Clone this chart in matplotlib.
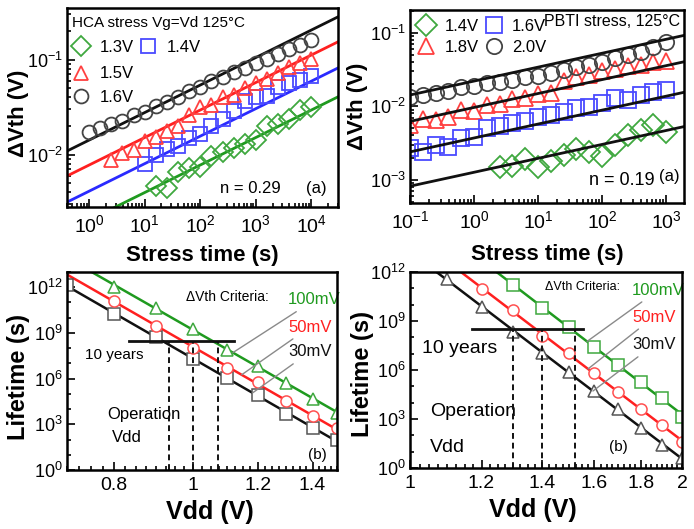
import numpy as np
import matplotlib
matplotlib.use("Agg")
import matplotlib.pyplot as plt
from matplotlib.ticker import FixedLocator, FuncFormatter, NullFormatter, LogLocator

SANS = ["Liberation Sans", "DejaVu Sans"]
plt.rcParams["font.family"] = SANS
plt.rcParams["mathtext.fontset"] = "custom"
plt.rcParams["mathtext.rm"] = "Liberation Sans"
plt.rcParams["mathtext.it"] = "Liberation Sans:italic"
plt.rcParams["mathtext.bf"] = "Liberation Sans:bold"
plt.rcParams["mathtext.default"] = "regular"

# ---------------- (a) HCA stress, Vg = Vd, 125 C ----------------
hca_time = [1, 1.58, 2.51, 3.98, 6.31, 10, 15.8, 25.1, 39.8, 63.1, 100,
            158, 251, 398, 631, 1000, 1585, 2512, 3981, 6310, 10000]
hca_16V = [0.0171, 0.0190, 0.0208, 0.0227, 0.0260, 0.0283, 0.0324, 0.0362,
           0.0405, 0.0462, 0.0516, 0.059, 0.066, 0.0736, 0.0823, 0.0918,
           0.1026, 0.1147, 0.128, 0.143, 0.160]
hca_15V = [0.0088, 0.0103, 0.0112, 0.0140, 0.0152, 0.0179, 0.0202, 0.0258,
           0.0315, 0.033, 0.040, 0.042, 0.050, 0.057, 0.063, 0.072, 0.083,
           0.092, 0.102]
hca_14V = [0.0079, 0.0100, 0.0115, 0.0124, 0.0150, 0.0165, 0.0202, 0.0238,
           0.029, 0.037, 0.0401, 0.0418, 0.052, 0.0564, 0.0611, 0.0679]
hca_13V = [0.0047, 0.0044, 0.0066, 0.0072, 0.0074, 0.0096, 0.0106, 0.0118,
           0.013, 0.0142, 0.0198, 0.021, 0.0238, 0.0295, 0.032]
hca_n = 0.29
hca_fit_A = {"1.3V": 0.00204, "1.4V": 0.00411, "1.5V": 0.00775, "1.6V": 0.0142}

# ---------------- (a) PBTI stress, 125 C ----------------
pbti_time = [0.1, 0.158, 0.251, 0.398, 0.631, 1, 1.58, 2.51, 3.98, 6.31, 10,
             15.8, 25.1, 39.8, 63.1, 100, 158, 251, 398, 631, 1000]
pbti_20V = [0.0133, 0.0143, 0.0153, 0.0164, 0.0182, 0.0189, 0.0206, 0.0217,
            0.0228, 0.0248, 0.0259, 0.0282, 0.0313, 0.0347, 0.0366, 0.0407,
            0.0451, 0.0501, 0.0556, 0.0651, 0.0762]
pbti_18V = [0.0055, 0.0068, 0.0066, 0.0072, 0.0088, 0.0085, 0.0105, 0.0108,
            0.0125, 0.0130, 0.0148, 0.0152, 0.022, 0.025, 0.027, 0.030, 0.032,
            0.035, 0.037, 0.040, 0.042]
pbti_16V = [0.00267, 0.00241, 0.00297, 0.00282, 0.00366, 0.00386, 0.00501,
            0.0054, 0.00586, 0.00638, 0.00723, 0.00762, 0.00846, 0.0094,
            0.00989, 0.011, 0.0129, 0.0122, 0.0143, 0.0158, 0.0167]
pbti_14V = [0.0015, 0.00155, 0.0019, 0.0015, 0.0018, 0.0022, 0.0026, 0.0024,
            0.0021, 0.003, 0.0041, 0.0048, 0.0056, 0.0044]
pbti_n = 0.19
pbti_fit_A = {"1.4V": 0.00126, "1.6V": 0.0037, "1.8V": 0.00965, "2.0V": 0.0221}

# ---------------- (b) lifetime vs Vdd ----------------
ten_years = 3.15e8
hca_vdd = [0.7, 0.8, 0.9, 1.0, 1.1, 1.2, 1.3, 1.4, 1.5]
hca_life_30mV = [1.4e12, 1.7e10, 5.1e8, 1.8e7, 1.15e6, 8.3e4, 5.1e3, 5.6e2, 91]
hca_life_50mV = [1.3e11, 3.0e9, 1.1e8, 4.7e6, 5.6e5, 3.2e4, 3.4e3, 5.6e2]
hca_life_100mV = [1.1e12, 4.3e10, 1.9e9, 8.1e7, 6.6e6, 5.4e5, 4.4e4, 5.9e3]
hca_oper_vdd = [0.933, 1.0, 1.072]
hca_ten_year_span = [0.835, 1.12]

pbti_vdd = [1.1, 1.2, 1.3, 1.4, 1.5, 1.6, 1.7, 1.8, 1.9, 2.0]
pbti_life_30mV = [3.7e11, 7.6e9, 2.2e8, 1.05e7, 7.2e5, 5.2e4, 4.1e3, 3.0e2, 26, 4.0]
pbti_life_50mV = [9.1e10, 4.8e9, 1.26e8, 1.05e7, 6.3e5, 4.7e4, 4.1e3, 4.3e2, 41]
pbti_life_100mV = [1.5e11, 6.6e9, 4.5e8, 2.7e7, 2.0e6, 1.95e5, 1.86e4, 1.4e3]
pbti_oper_vdd = [1.301, 1.399, 1.523]
pbti_ten_year_span = [1.17, 1.556]

GREEN, BLUE, RED, BLACK = "#1f9a1f", "#2a2aff", "#ff2020", "#111111"
MK_GREEN, MK_BLUE, MK_RED, MK_BLACK = "#3fa83f", "#4a4aff", "#ff4040", "#444444"

fig = plt.figure(figsize=(6.94, 5.29), dpi=100)
W, H = 694.0, 529.0


def add_axes(l, r, t, b):
    return fig.add_axes([l / W, 1 - b / H, (r - l) / W, (b - t) / H])


def style(ax, ysize=13):
    for s in ax.spines.values():
        s.set_linewidth(1.8)
        s.set_zorder(5)
    ax.tick_params(which="both", direction="in", top=False, right=False,
                   width=1.2)
    ax.tick_params(axis="x", labelsize=14, pad=5)
    ax.tick_params(axis="y", labelsize=ysize, pad=3)
    ax.tick_params(which="major", length=6)
    ax.tick_params(which="minor", length=3)


def pow_fmt(v, pos):
    e = int(round(np.log10(v)))
    return r"$10^{%d}$" % e


def set_xlabel(ax, txt, x, y, size=16):
    ax.set_xlabel(txt, fontsize=size, fontweight="bold")
    ax.xaxis.label.set_verticalalignment("center")
    ax.xaxis.set_label_coords(x, y)


def set_ylabel(ax, txt, x, y, size=17):
    ax.set_ylabel(txt, fontsize=size, fontweight="bold")
    ax.yaxis.label.set_verticalalignment("center")
    ax.yaxis.set_label_coords(x, y)


# ================= panel: HCA degradation =================
ax1 = add_axes(67, 338, 8, 207)
ax1.set_xscale("log")
ax1.set_yscale("log")
ax1.set_xlim(0.4, 3e4)
ax1.set_ylim(2.8e-3, 0.35)
t_line = np.array(ax1.get_xlim())
series1 = [
    ("1.3V", hca_time[6:], hca_13V, "D", MK_GREEN, GREEN),
    ("1.4V", hca_time[5:], hca_14V, "s", MK_BLUE, BLUE),
    ("1.5V", hca_time[2:], hca_15V, "^", MK_RED, RED),
    ("1.6V", hca_time, hca_16V, "o", MK_BLACK, BLACK),
]
handles1 = {}
for name, t, v, mk, mc, lc in series1:
    ax1.plot(t_line, hca_fit_A[name] * t_line ** hca_n, color=lc, lw=2, zorder=2)
    h, = ax1.plot(t, v, ls="none", marker=mk, ms=10, mfc="none", mec=mc,
                  mew=1.3, label=name, zorder=3)
    handles1[name] = h
ax1.xaxis.set_major_locator(FixedLocator([1, 10, 100, 1000, 10000]))
ax1.xaxis.set_major_formatter(FuncFormatter(pow_fmt))
ax1.xaxis.set_minor_locator(LogLocator(base=10, subs=np.arange(2, 10), numticks=20))
ax1.xaxis.set_minor_formatter(NullFormatter())
ax1.yaxis.set_major_locator(FixedLocator([0.01, 0.1]))
ax1.yaxis.set_major_formatter(FuncFormatter(pow_fmt))
ax1.yaxis.set_minor_locator(LogLocator(base=10, subs=np.arange(2, 10), numticks=20))
ax1.yaxis.set_minor_formatter(NullFormatter())
style(ax1)
set_xlabel(ax1, "Stress time (s)", 0.5, -0.245)
set_ylabel(ax1, "\u0394Vth (V)", -0.18, 0.47, size=16)
ax1.text(0.018, 0.925, "HCA stress Vg=Vd 125\u00b0C", transform=ax1.transAxes,
         fontsize=11, va="center", ha="left")
leg_a = ax1.legend(handles=[handles1["1.3V"], handles1["1.4V"]], ncol=2,
                   loc="upper left", bbox_to_anchor=(-0.01, 0.875), frameon=False,
                   fontsize=12, handlelength=1.2, handletextpad=0.5,
                   columnspacing=0.3, borderaxespad=0)
ax1.add_artist(leg_a)
ax1.legend(handles=[handles1["1.5V"], handles1["1.6V"]], loc="upper left",
           bbox_to_anchor=(-0.01, 0.74), frameon=False, fontsize=12,
           handlelength=1.2, handletextpad=0.5, labelspacing=0.5,
           borderaxespad=0)
ax1.text(0.675, 0.095, "n = 0.29", transform=ax1.transAxes, fontsize=12,
         ha="center", va="center")
ax1.text(0.92, 0.095, "(a)", transform=ax1.transAxes, fontsize=12,
         ha="center", va="center")

# ================= panel: PBTI degradation =================
ax2 = add_axes(410, 684, 10, 203)
ax2.set_xscale("log")
ax2.set_yscale("log")
ax2.set_xlim(0.1, 1900)
ax2.set_ylim(4.8e-4, 0.206)
t_line2 = np.array(ax2.get_xlim())
series2 = [
    ("1.4V", pbti_time[7:], pbti_14V, "D", MK_GREEN),
    ("1.8V", pbti_time, pbti_18V, "^", MK_RED),
    ("1.6V", pbti_time, pbti_16V, "s", MK_BLUE),
    ("2.0V", pbti_time, pbti_20V, "o", MK_BLACK),
]
handles2 = []
for name, t, v, mk, mc in series2:
    ax2.plot(t_line2, pbti_fit_A[name] * t_line2 ** pbti_n, color=BLACK, lw=2,
             zorder=4)
    h, = ax2.plot(t, v, ls="none", marker=mk, ms=11, mfc="none", mec=mc,
                  mew=1.3, label=name, zorder=3)
    handles2.append(h)
ax2.xaxis.set_major_locator(FixedLocator([0.1, 1, 10, 100, 1000]))
ax2.xaxis.set_major_formatter(FuncFormatter(pow_fmt))
ax2.xaxis.set_minor_locator(LogLocator(base=10, subs=np.arange(2, 10), numticks=20))
ax2.xaxis.set_minor_formatter(NullFormatter())
ax2.yaxis.set_major_locator(FixedLocator([1e-3, 1e-2, 1e-1]))
ax2.yaxis.set_major_formatter(FuncFormatter(pow_fmt))
ax2.yaxis.set_minor_locator(LogLocator(base=10, subs=np.arange(2, 10), numticks=20))
ax2.yaxis.set_minor_formatter(NullFormatter())
style(ax2)
set_xlabel(ax2, "Stress time (s)", 0.5, -0.265)
set_ylabel(ax2, "\u0394Vth (V)", -0.19, 0.5, size=16)
ax2.legend(handles=handles2, ncol=2, loc="upper left",
           bbox_to_anchor=(-0.01, 1.0), frameon=False, fontsize=12,
           handlelength=1.2, handletextpad=0.5, columnspacing=0.3,
           labelspacing=0.35, borderaxespad=0.15)
ax2.text(0.49, 0.94, "PBTI stress, 125\u00b0C", transform=ax2.transAxes,
         fontsize=11.5, ha="left", va="center")
ax2.text(0.774, 0.119, "n = 0.19", transform=ax2.transAxes, fontsize=13,
         ha="center", va="center")
ax2.text(0.945, 0.135, "(a)", transform=ax2.transAxes, fontsize=12,
         ha="center", va="center")


# ================= lifetime panels =================
def lifetime_panel(ax, vdd, lives, specs, oper, span, xlim, ylim, xticks,
                   minor_step):
    ax.set_xscale("log")
    ax.set_yscale("log")
    ax.set_xlim(*xlim)
    ax.set_ylim(*ylim)
    vline = np.array(xlim)
    fits = {}
    for (label, mk, mc, lc), life in zip(specs, lives):
        v = vdd[len(vdd) - len(life):]
        p = np.polyfit(np.log10(v), np.log10(life), 1)
        fits[label] = p
        ax.plot(vline, 10 ** np.polyval(p, np.log10(vline)), color=lc, lw=1.8,
                zorder=2)
        ax.plot(v, life, ls="none", marker=mk, ms=8, mfc="white",
                mec=mc, mew=1.1, zorder=3)
    ax.plot(span, [ten_years, ten_years], color=BLACK, lw=2, zorder=4)
    for vo in oper:
        ax.plot([vo, vo], [ylim[0], ten_years], color=BLACK, lw=1.4,
                ls=(0, (3, 2)), zorder=4)
    ax.xaxis.set_major_locator(FixedLocator(xticks))
    ax.xaxis.set_major_formatter(FuncFormatter(lambda v, p: "%g" % v))
    ax.xaxis.set_minor_locator(FixedLocator(
        np.round(np.arange(xlim[0], xlim[1] + 1e-9, minor_step), 3)))
    ax.xaxis.set_minor_formatter(NullFormatter())
    ax.yaxis.set_major_locator(FixedLocator([1e0, 1e3, 1e6, 1e9, 1e12]))
    ax.yaxis.set_major_formatter(FuncFormatter(pow_fmt))
    ax.yaxis.set_minor_locator(FixedLocator([10.0 ** k for k in range(0, 14)]))
    ax.yaxis.set_minor_formatter(NullFormatter())
    style(ax, ysize=13)
    return fits


def criteria_labels(ax, specs, fits, ys, vends, xt):
    for (label, _, _, lc), y, vend in zip(specs, ys, vends):
        yend = 10 ** np.polyval(fits[label], np.log10(vend))
        ax.annotate(label, xy=(vend, yend), xytext=(xt, y),
                    textcoords="axes fraction", fontsize=12, color=lc,
                    ha="left", va="center",
                    arrowprops=dict(arrowstyle="-", color="#8a8a8a", lw=1.0,
                                    shrinkA=2, shrinkB=0))


specs3 = [("30mV", "s", "#555555", BLACK),
          ("50mV", "o", "#ff5050", RED),
          ("100mV", "^", "#3fa83f", GREEN)]
ax3 = add_axes(67, 337, 272, 470)
fits3 = lifetime_panel(ax3, hca_vdd, [hca_life_30mV, hca_life_50mV, hca_life_100mV],
                       specs3, hca_oper_vdd, hca_ten_year_span, (0.7, 1.5),
                       (1, 1e13), [0.8, 1.0, 1.2, 1.4], 0.025)
set_xlabel(ax3, "Vdd (V)", 0.53, -0.21, size=18)
set_ylabel(ax3, "Lifetime (s)", -0.18, 0.47)
ax3.text(0.593, 0.874, "\u0394Vth Criteria:", transform=ax3.transAxes,
         fontsize=10, ha="center", va="center")
criteria_labels(ax3, specs3, fits3, [0.596, 0.722, 0.859], [1.182, 1.146, 1.118],
                0.819)
ax3.text(0.174, 0.581, "10 years", transform=ax3.transAxes, fontsize=11,
         ha="center", va="center")
ax3.text(0.148, 0.278, "Operation", transform=ax3.transAxes, fontsize=12,
         ha="left", va="center")
ax3.text(0.167, 0.162, "Vdd", transform=ax3.transAxes, fontsize=12,
         ha="left", va="center")
ax3.text(0.926, 0.076, "(b)", transform=ax3.transAxes, fontsize=11,
         ha="center", va="center")

specs4 = [("30mV", "^", "#555555", BLACK),
          ("50mV", "o", "#ff5050", RED),
          ("100mV", "s", "#3fa83f", GREEN)]
ax4 = add_axes(410, 682, 272, 468)
fits4 = lifetime_panel(ax4, pbti_vdd, [pbti_life_30mV, pbti_life_50mV, pbti_life_100mV],
                       specs4, pbti_oper_vdd, pbti_ten_year_span, (1.0, 2.0),
                       (1, 1e12), [1.0, 1.2, 1.4, 1.6, 1.8, 2.0], 0.025)
set_xlabel(ax4, "Vdd (V)", 0.45, -0.215, size=18)
set_ylabel(ax4, "Lifetime (s)", -0.175, 0.48)
ax4.text(0.636, 0.923, "\u0394Vth Criteria:", transform=ax4.transAxes,
         fontsize=9, ha="center", va="center")
criteria_labels(ax4, specs4, fits4, [0.628, 0.77, 0.908], [1.594, 1.574, 1.57],
                0.816)
ax4.text(0.184, 0.612, "10 years", transform=ax4.transAxes, fontsize=14,
         ha="center", va="center")
ax4.text(0.074, 0.286, "Operation", transform=ax4.transAxes, fontsize=14,
         ha="left", va="center")
ax4.text(0.074, 0.107, "Vdd", transform=ax4.transAxes, fontsize=14,
         ha="left", va="center")
ax4.text(0.765, 0.107, "(b)", transform=ax4.transAxes, fontsize=11,
         ha="center", va="center")

fig.savefig("out.png", dpi=100)
